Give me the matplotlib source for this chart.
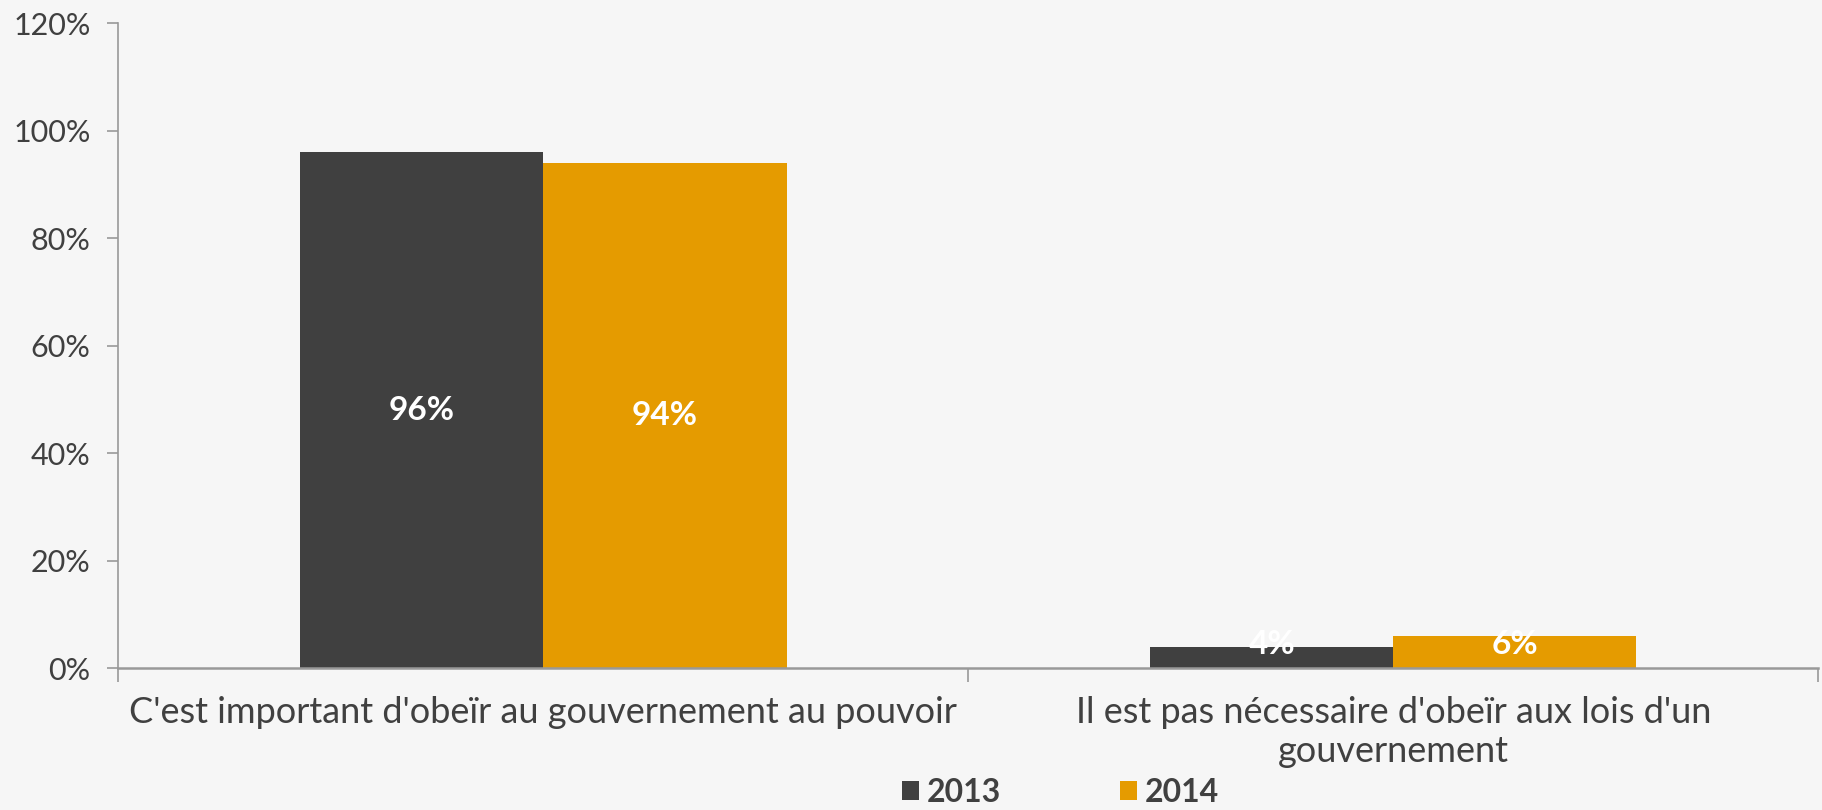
import matplotlib
matplotlib.use('Agg')
import matplotlib.pyplot as plt
import numpy as np

categories = ["C'est important d'obeïr au gouvernement au pouvoir",
              "Il est pas nécessaire d'obeïr aux lois d'un\ngouvernement"]
series = ['2013', '2014']
values_2013 = [96, 4]
values_2014 = [94, 6]
colors = ['#404040', '#E59B00']
yticks = [0, 20, 40, 60, 80, 100, 120]

plt.rcParams['font.family'] = ['Lato', 'DejaVu Sans']

fig = plt.figure(figsize=(18.22, 8.10), dpi=100, facecolor='#f6f6f6')
ax = fig.add_axes([0.065, 0.1753, 0.933, 0.7963])
ax.set_facecolor('#f6f6f6')

x = np.arange(len(categories))
w = 0.286
for i, (vals, name) in enumerate([(values_2013, series[0]), (values_2014, series[1])]):
    pos = x + (i - 0.5) * w
    ax.bar(pos, vals, width=w, color=colors[i], label=name, zorder=2)
    for p, v in zip(pos, vals):
        ax.text(p, max(v / 2, 4.3), f'{v}%', color='white', fontsize=24,
                fontweight='bold', ha='center', va='center', zorder=3)

ax.set_xlim(-0.5, 1.5)
ax.set_ylim(0, 120)
ax.set_yticks(yticks)
ax.set_yticklabels([f'{t}%' for t in yticks], fontsize=22, color='#404040')
ax.set_xticks(x)
ax.set_xticklabels(categories, fontsize=26, color='#404040', linespacing=1.22)
ax.set_xticks([-0.5, 0.5, 1.5], minor=True)
ax.tick_params(axis='x', which='major', length=0, pad=20)
ax.tick_params(axis='x', which='minor', length=10, color='#999999', width=1.2)
ax.tick_params(axis='y', length=8, color='#999999', width=1.2, pad=12)

for s in ['top', 'right']:
    ax.spines[s].set_visible(False)
ax.spines['left'].set_color('#999999')
ax.spines['bottom'].set_color('#999999')
ax.spines['left'].set_linewidth(1.2)
ax.spines['bottom'].set_linewidth(1.8)

leg = fig.legend(loc='center', bbox_to_anchor=(0.582, 0.022), ncol=2, frameon=False,
                 handlelength=0.55, handleheight=0.55, handletextpad=0.25,
                 columnspacing=3.7, prop={'size': 23, 'weight': 'bold'})
for t in leg.get_texts():
    t.set_color('#404040')

fig.savefig('out.png', dpi=100, facecolor=fig.get_facecolor())
